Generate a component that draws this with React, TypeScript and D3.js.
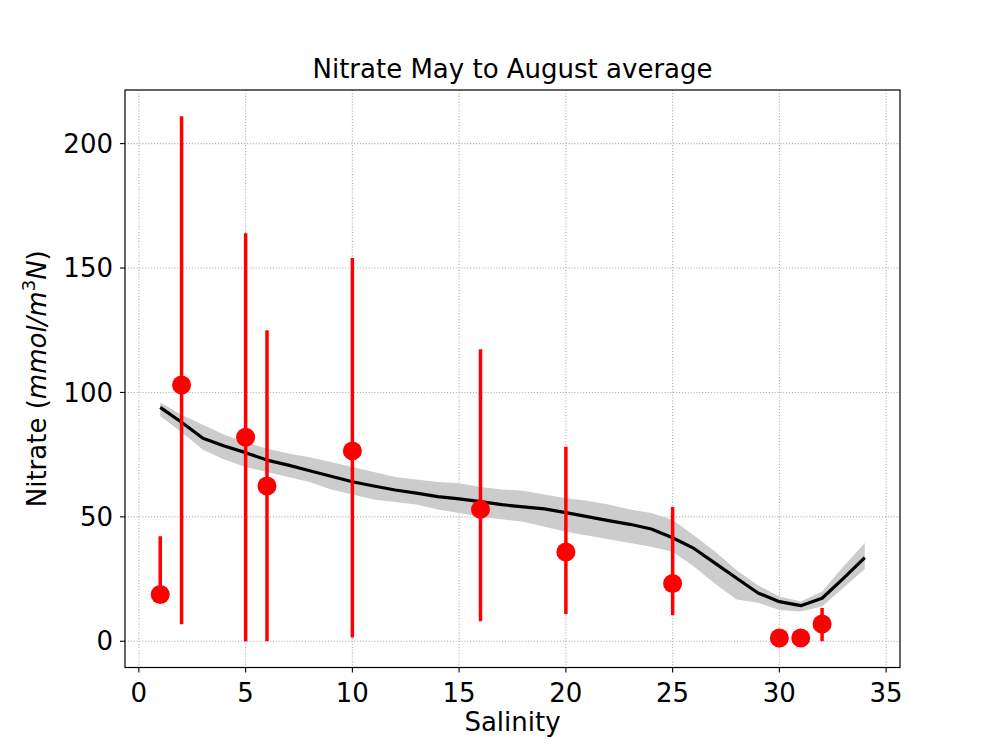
import React, { useEffect, useRef } from 'react';
import * as d3 from 'd3';

// Model mean and confidence band along salinity
const modelSalinity = [1, 2, 3, 4, 5, 6, 7, 8, 9, 10, 11, 12, 13, 14, 15, 16, 17, 18, 19, 20, 21, 22, 23, 24, 25, 26, 27, 28, 29, 30, 31, 32, 33, 34];
const modelMean = [94.0, 88.0, 81.6, 78.5, 75.8, 72.8, 70.8, 68.5, 66.3, 64.1, 62.4, 60.8, 59.5, 58.1, 57.2, 56.1, 54.9, 54.0, 53.2, 51.7, 50.1, 48.5, 47.0, 45.1, 41.6, 37.3, 31.3, 25.3, 19.4, 15.9, 14.3, 17.3, 25.3, 33.6];
const modelLow = [90.5, 84.0, 77.0, 73.0, 70.0, 68.0, 66.0, 64.0, 61.0, 59.0, 57.0, 56.0, 55.0, 53.0, 51.5, 50.0, 49.0, 48.0, 46.0, 44.0, 42.5, 41.0, 39.5, 38.0, 36.0, 30.0, 23.0, 16.8, 15.5, 12.6, 12.0, 14.0, 21.5, 29.0];
const modelHigh = [96.0, 91.0, 87.0, 83.0, 80.0, 77.5, 75.5, 74.0, 72.0, 70.0, 68.0, 66.0, 65.0, 64.0, 63.5, 62.0, 61.0, 60.5, 59.0, 57.5, 56.5, 55.0, 53.0, 51.5, 48.7, 42.5, 36.0, 28.5, 22.5, 18.0, 16.0, 20.0, 30.0, 39.5];

// Observations: mean with error range
const obsSalinity = [1, 2, 5, 6, 10, 16, 20, 25, 30, 31, 32];
const obsMean = [18.8, 103.0, 82.0, 62.4, 76.5, 53.0, 35.9, 23.2, 1.3, 1.3, 6.9];
const obsLow = [17.0, 6.8, 0.0, 0.0, 1.5, 8.0, 10.9, 10.5, 1.3, 1.3, 0.0];
const obsHigh = [42.2, 211.0, 164.0, 125.0, 154.0, 117.4, 78.2, 54.0, 1.3, 1.3, 13.4];

const xTicks = [0, 5, 10, 15, 20, 25, 30, 35];
const yTicks = [0, 50, 100, 150, 200];

const W = 1000;
const H = 750;
const margin = { top: 90, right: 100, bottom: 82.5, left: 125 };
const FONT = 'DejaVu Sans, sans-serif';

export default function App() {
  const svgRef = useRef<SVGSVGElement>(null);

  useEffect(() => {
    document.body.style.margin = '0';
    if (!svgRef.current) return;
    const svg = d3.select(svgRef.current);
    svg.selectAll('*').remove();

    const iw = W - margin.left - margin.right;
    const ih = H - margin.top - margin.bottom;

    const x = d3.scaleLinear().domain([-0.65, 35.65]).range([0, iw]);
    const y = d3.scaleLinear().domain([-10.55, 221.55]).range([ih, 0]);

    svg.append('rect').attr('width', W).attr('height', H).attr('fill', 'white');

    const g = svg.append('g').attr('transform', `translate(${margin.left},${margin.top})`);

    // grid
    g.selectAll('.gx').data(xTicks).enter().append('line')
      .attr('x1', d => x(d)).attr('x2', d => x(d))
      .attr('y1', 0).attr('y2', ih)
      .attr('stroke', '#b0b0b0').attr('stroke-width', 1.1)
      .attr('stroke-dasharray', '1.1,1.8');
    g.selectAll('.gy').data(yTicks).enter().append('line')
      .attr('x1', 0).attr('x2', iw)
      .attr('y1', d => y(d)).attr('y2', d => y(d))
      .attr('stroke', '#b0b0b0').attr('stroke-width', 1.1)
      .attr('stroke-dasharray', '1.1,1.8');

    // band
    const band = modelSalinity.map((s, i) => ({ s, lo: modelLow[i], hi: modelHigh[i], m: modelMean[i] }));
    const area = d3.area<any>()
      .x(d => x(d.s))
      .y0(d => y(d.lo))
      .y1(d => y(d.hi));
    g.append('path').datum(band).attr('d', area).attr('fill', '#cccccc');

    const line = d3.line<any>().x(d => x(d.s)).y(d => y(d.m));
    g.append('path').datum(band).attr('d', line)
      .attr('fill', 'none').attr('stroke', 'black').attr('stroke-width', 3.2)
      .attr('stroke-linejoin', 'round');

    // observations
    const obs = obsSalinity.map((s, i) => ({ s, m: obsMean[i], lo: obsLow[i], hi: obsHigh[i] }));
    g.selectAll('.err').data(obs).enter().append('line')
      .attr('x1', d => x(d.s)).attr('x2', d => x(d.s))
      .attr('y1', d => y(d.lo)).attr('y2', d => y(d.hi))
      .attr('stroke', '#ff0000').attr('stroke-width', 3.5);
    g.selectAll('.dot').data(obs).enter().append('circle')
      .attr('cx', d => x(d.s)).attr('cy', d => y(d.m)).attr('r', 9.5)
      .attr('fill', '#ff0000');

    // frame
    g.append('rect').attr('width', iw).attr('height', ih)
      .attr('fill', 'none').attr('stroke', 'black').attr('stroke-width', 1.2);

    // x axis ticks
    const xa = g.append('g').attr('transform', `translate(0,${ih})`);
    xTicks.forEach(t => {
      xa.append('line').attr('x1', x(t)).attr('x2', x(t)).attr('y1', 0).attr('y2', 5)
        .attr('stroke', 'black').attr('stroke-width', 1.1);
      xa.append('text').attr('x', x(t)).attr('y', 34)
        .attr('text-anchor', 'middle').attr('font-family', FONT).attr('font-size', 26)
        .text(t);
    });
    const ya = g.append('g');
    yTicks.forEach(t => {
      ya.append('line').attr('x1', -5).attr('x2', 0).attr('y1', y(t)).attr('y2', y(t))
        .attr('stroke', 'black').attr('stroke-width', 1.1);
      ya.append('text').attr('x', -12).attr('y', y(t)).attr('dy', '0.35em')
        .attr('text-anchor', 'end').attr('font-family', FONT).attr('font-size', 26)
        .text(t);
    });

    // title and labels
    svg.append('text').attr('x', margin.left + iw / 2).attr('y', 78)
      .attr('text-anchor', 'middle').attr('font-family', FONT).attr('font-size', 26)
      .text('Nitrate May to August average');
    svg.append('text').attr('x', margin.left + iw / 2).attr('y', 731)
      .attr('text-anchor', 'middle').attr('font-family', FONT).attr('font-size', 26)
      .text('Salinity');

    const yl = svg.append('text')
      .attr('transform', `translate(46,${margin.top + ih / 2}) rotate(-90)`)
      .attr('text-anchor', 'middle').attr('font-family', FONT).attr('font-size', 26);
    yl.append('tspan').text('Nitrate (');
    yl.append('tspan').attr('font-style', 'italic').text('mmol/m');
    yl.append('tspan').attr('font-size', 18).attr('dy', -11).text('3');
    yl.append('tspan').attr('font-style', 'italic').attr('dy', 11).text('N');
    yl.append('tspan').text(')');
  }, []);

  return <svg ref={svgRef} width={W} height={H} style={{ display: 'block' }} />;
}
